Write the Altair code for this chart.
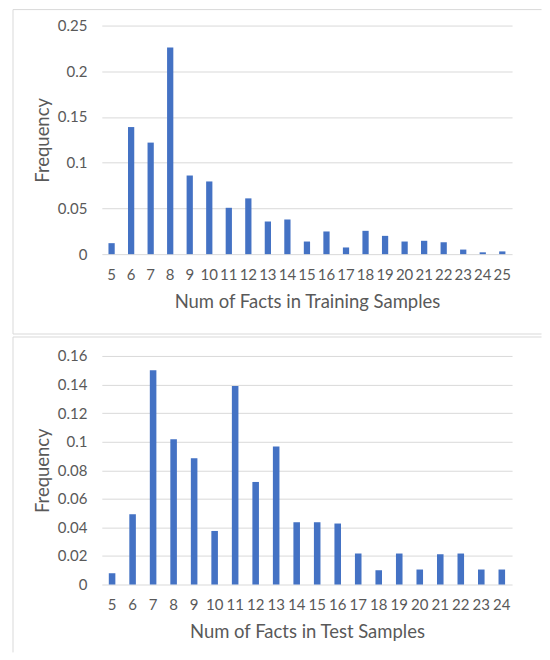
import altair as alt
import pandas as pd

train_x = list(range(5, 26))
train_freq = [0.012, 0.139, 0.122, 0.226, 0.086, 0.0795, 0.0507, 0.061, 0.0357, 0.0379,
              0.0138, 0.0248, 0.0073, 0.0255, 0.020, 0.0138, 0.0146, 0.013, 0.005, 0.002, 0.003]
train_ticks = [0, 0.05, 0.1, 0.15, 0.2, 0.25]

test_x = list(range(5, 25))
test_freq = [0.0079, 0.0492, 0.150, 0.1017, 0.0884, 0.0375, 0.139, 0.0718, 0.0966, 0.0436,
             0.0436, 0.0427, 0.0217, 0.0100, 0.0217, 0.0105, 0.0212, 0.0217, 0.0105, 0.0105]
test_ticks = [0, 0.02, 0.04, 0.06, 0.08, 0.1, 0.12, 0.14, 0.16]

FONT = "Lato"
TXT = "#595959"
GRID = "#d9d9d9"
BAR = "#4472C4"
W, H = 411, 229


def panel(xs, ys, ticks, xtitle, top_y, bottom_y):
    df = pd.DataFrame({"n": xs, "f": ys})
    bars = alt.Chart(df).mark_bar(color=BAR).encode(
        x=alt.X("n:O",
                scale=alt.Scale(paddingInner=0.68, paddingOuter=0.34),
                axis=alt.Axis(title=xtitle, labelAngle=0, ticks=False, domain=False,
                              labelPadding=13, titlePadding=10, grid=False)),
        y=alt.Y("f:Q",
                scale=alt.Scale(domain=[ticks[0], ticks[-1]], nice=False),
                axis=alt.Axis(title="Frequency", values=ticks, format="~g", ticks=False,
                              domain=False, labelPadding=15, titlePadding=5,
                              grid=True, gridColor=GRID, gridWidth=1)),
    )
    one = alt.Chart(pd.DataFrame({"a": [0]}))
    border_style = dict(color=GRID, strokeWidth=1)
    left = one.mark_rule(**border_style).encode(
        x=alt.value(-89), y=alt.value(top_y), y2=alt.value(bottom_y))
    top = one.mark_rule(**border_style).encode(
        x=alt.value(-89), x2=alt.value(440.5), y=alt.value(top_y))
    return alt.layer(bars, left, top).properties(width=W, height=H)


c1 = panel(train_x, train_freq, train_ticks, "Num of Facts in Training Samples", -16, 309)
bottom_line = alt.Chart(pd.DataFrame({"a": [0]})).mark_rule(color=GRID, strokeWidth=1).encode(
    x=alt.value(-89), x2=alt.value(440.5), y=alt.value(309))
c1 = alt.layer(c1, bottom_line)
c2 = panel(test_x, test_freq, test_ticks, "Num of Facts in Test Samples", -19, 297)

chart = alt.vconcat(c1, c2, spacing=1).properties(
    padding={"left": 4, "top": 0, "right": 0, "bottom": 0}
).configure_view(stroke=None).configure_axis(
    labelFont=FONT, titleFont=FONT, labelColor=TXT, titleColor=TXT,
    labelFontSize=15, titleFontSize=18.5, titleFontWeight="normal"
)

chart.save("out.html", embed_options={"renderer": "svg", "actions": False})
